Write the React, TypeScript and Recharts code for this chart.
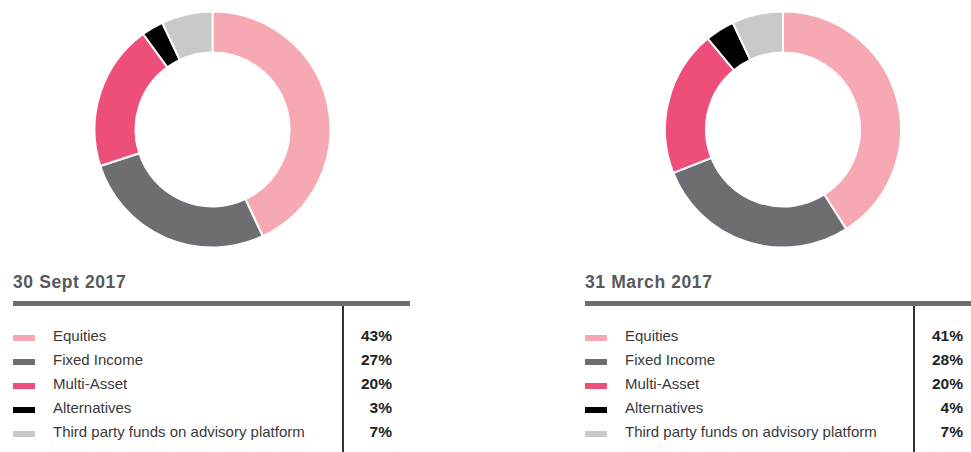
import React from "react";
import { PieChart, Pie, Cell } from "recharts";

const categories = [
  "Equities",
  "Fixed Income",
  "Multi-Asset",
  "Alternatives",
  "Third party funds on advisory platform",
];
const colors = ["#f6a8b3", "#6d6e71", "#ee4f7a", "#000000", "#c8c9cb"];
const sept2017 = [43, 27, 20, 3, 7];
const march2017 = [41, 28, 20, 4, 7];
const titles = ["30 Sept 2017", "31 March 2017"];

const toData = (vals: number[]) =>
  categories.map((name, i) => ({ name, value: vals[i] }));

const FONT = '"Liberation Sans", Arial, Helvetica, sans-serif';
const STEP = 23.9;

function Table({ title, values, left, width, divider }: { title: string; values: number[]; left: number; width: number; divider: number }) {
  return (
    <div style={{ position: "absolute", left, top: 270, width, height: 182, fontFamily: FONT }}>
      <div style={{ position: "absolute", left: 0, top: 3, fontSize: 17.5, fontWeight: "bold", color: "#58595b", lineHeight: "19px", letterSpacing: 0.6, whiteSpace: "nowrap" }}>
        {title}
      </div>
      <div style={{ position: "absolute", left: 0, top: 31, width, height: 5, background: "#6d6e71" }} />
      <div style={{ position: "absolute", left: divider, top: 36, width: 1.5, height: 150, background: "#333" }} />
      {categories.map((c, i) => (
        <React.Fragment key={c}>
          <div style={{ position: "absolute", left: 0, top: 65 + i * STEP, width: 22, height: 6, background: colors[i] }} />
          <div style={{ position: "absolute", left: 40, top: 57 + i * STEP, fontSize: 15, color: "#3a3a3a", lineHeight: "17px", whiteSpace: "nowrap" }}>
            {c}
          </div>
          <div style={{ position: "absolute", left: divider, width: 50, top: 57 + i * STEP, fontSize: 15.5, fontWeight: "bold", color: "#222", lineHeight: "17px", textAlign: "right" }}>
            {values[i]}%
          </div>
        </React.Fragment>
      ))}
    </div>
  );
}

export default function App() {
  return (
    <div style={{ position: "absolute", left: 0, top: 0, width: 971, height: 452, background: "#fff", overflow: "hidden" }}>
      <div style={{ position: "absolute", left: 0, top: 0 }}>
        <PieChart width={971} height={260} margin={{ top: 0, right: 0, bottom: 0, left: 0 }}>
          <Pie
            data={toData(sept2017)}
            dataKey="value"
            nameKey="name"
            cx={212.5}
            cy={129.5}
            innerRadius={77}
            outerRadius={118}
            startAngle={90}
            endAngle={-270}
            stroke="#ffffff"
            strokeWidth={2}
            isAnimationActive={false}
          >
            {sept2017.map((_, i) => (
              <Cell key={i} fill={colors[i]} />
            ))}
          </Pie>
          <Pie
            data={toData(march2017)}
            dataKey="value"
            nameKey="name"
            cx={783}
            cy={129.5}
            innerRadius={77}
            outerRadius={118}
            startAngle={90}
            endAngle={-270}
            stroke="#ffffff"
            strokeWidth={2}
            isAnimationActive={false}
          >
            {march2017.map((_, i) => (
              <Cell key={i} fill={colors[i]} />
            ))}
          </Pie>
        </PieChart>
      </div>
      <Table title={titles[0]} values={sept2017} left={13} width={397} divider={329} />
      <Table title={titles[1]} values={march2017} left={585} width={386} divider={328} />
    </div>
  );
}
